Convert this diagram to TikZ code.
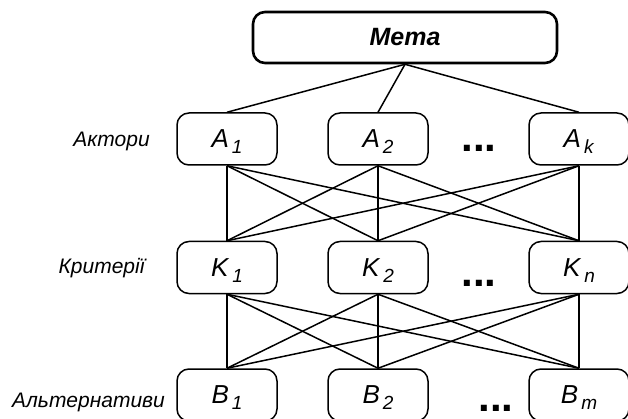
\documentclass[tikz,border=0pt]{standalone}
\usepackage{fontspec}
\setmainfont{Liberation Sans}
\usetikzlibrary{positioning}

% letter with a lowered index, as in the boxes
\newcommand{\idx}[2]{\textit{#1}\kern3pt\raisebox{-6pt}[0pt][0pt]{\fontsize{19}{19}\selectfont\textit{#2}}}

\begin{document}
\begin{tikzpicture}[
    x=1pt, y=-1pt,
    nd/.style={draw, rounded corners=12pt, line width=1.5pt, minimum width=100pt, minimum height=52pt, inner sep=0pt, font=\fontsize{26}{26}\selectfont},
    goal/.style={nd, line width=2.6pt, minimum width=304pt, minimum height=51pt, font=\fontsize{25}{25}\selectfont\bfseries\itshape},
    lvl/.style={anchor=base, inner sep=0pt, font=\fontsize{21}{21}\selectfont\itshape},
    more/.style={inner sep=0pt, font=\fontsize{42}{42}\selectfont\bfseries},
    ln/.style={line width=1.5pt},
]
\useasboundingbox (0,0) rectangle (628,419);

\node[goal] (meta) at (405, 37.5) {Мета};

\node[nd] (a1) at (227, 139) {\idx{A}{1}};
\node[nd] (a2) at (378, 139) {\idx{A}{2}};
\node[nd] (ak) at (579, 139) {\idx{A}{k}};

\node[nd] (k1) at (227, 267.5) {\idx{K}{1}};
\node[nd] (k2) at (378, 267.5) {\idx{K}{2}};
\node[nd] (kn) at (579, 267.5) {\idx{K}{n}};

\node[nd] (b1) at (227, 395) {\idx{B}{1}};
\node[nd] (b2) at (378, 395) {\idx{B}{2}};
\node[nd] (bm) at (579, 395) {\idx{B}{m}};

\node[more] (dotsa) at (479, 148) {...};
\node[more] (dotsk) at (479, 283) {...};
\node[more] (dotsb) at (496, 408) {...};

\node[lvl] (actors) at (111.5, 147) {Актори};
\node[lvl] (crit) at (101.5, 273) {Критерії};
\node[lvl] (alts) at (88.5, 407) {Альтернативи};

\draw[ln] (meta.south) -- (a1.north);
\draw[ln] (meta.south) -- (a2.north);
\draw[ln] (meta.south) -- (ak.north);

\draw[ln] (a1.south) -- (k1.north);
\draw[ln] (a1.south) -- (k2.north);
\draw[ln] (a1.south) -- (kn.north);
\draw[ln] (a2.south) -- (k1.north);
\draw[ln] (a2.south) -- (k2.north);
\draw[ln] (a2.south) -- (kn.north);
\draw[ln] (ak.south) -- (k1.north);
\draw[ln] (ak.south) -- (k2.north);
\draw[ln] (ak.south) -- (kn.north);

\draw[ln] (k1.south) -- (b1.north);
\draw[ln] (k1.south) -- (b2.north);
\draw[ln] (k1.south) -- (bm.north);
\draw[ln] (k2.south) -- (b1.north);
\draw[ln] (k2.south) -- (b2.north);
\draw[ln] (k2.south) -- (bm.north);
\draw[ln] (kn.south) -- (b1.north);
\draw[ln] (kn.south) -- (b2.north);
\draw[ln] (kn.south) -- (bm.north);

\end{tikzpicture}
\end{document}
